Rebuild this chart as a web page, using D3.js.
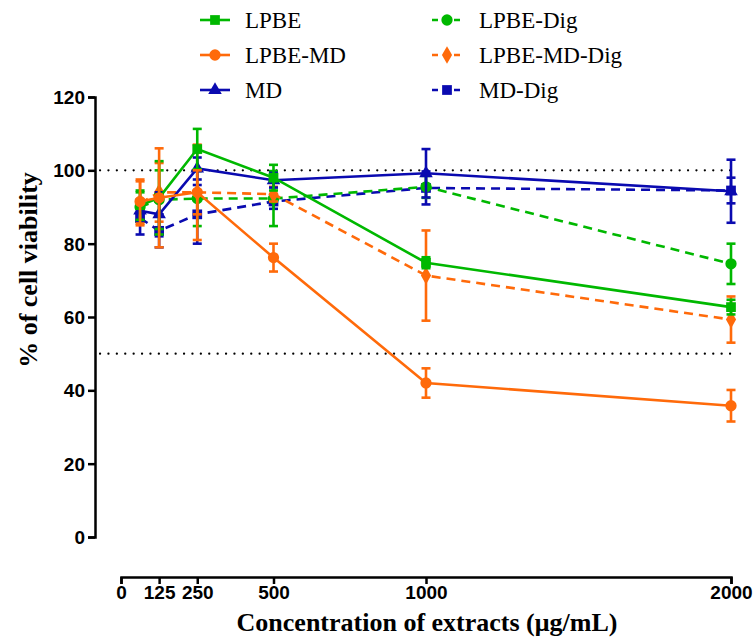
<!DOCTYPE html>
<html>
<head>
<meta charset="utf-8">
<script src="https://cdn.jsdelivr.net/npm/d3@7"></script>
<style>
    body { margin: 0; background: #fff; }
    .tick-label { font-family: "Liberation Sans", Arial, sans-serif; font-weight: bold; font-size: 19px; }
    .axis-title { font-family: "Liberation Serif", "Times New Roman", serif; font-weight: bold; font-size: 26px; }
    .legend-text { font-family: "Liberation Serif", "Times New Roman", serif; font-size: 23px; }
</style>
</head>
<body>
<div id="chart"></div>
<script>
// concentrations (ug/mL), first point is the 62.5 dose
var doses = [62.5, 125, 250, 500, 1000, 2000];
var xTicks = [0, 125, 250, 500, 1000, 2000];
var yTicks = [0, 20, 40, 60, 80, 100, 120];
var refLines = [100, 50];

var seriesNames = ["LPBE", "LPBE-MD", "MD", "LPBE-Dig", "LPBE-MD-Dig", "MD-Dig"];

var lpbe      = [90.5, 92.5, 105.8, 98.0, 74.8, 62.7];
var lpbeErr   = [4, 10, 5.5, 3.5, 1.5, 2];
var lpbeMd    = [91.5, 92.5, 94.0, 76.2, 42.0, 35.8];
var lpbeMdErr = [6, 13.5, 6, 3.8, 4, 4.3];
var md        = [89.0, 88.0, 100.5, 97.3, 99.2, 94.3];
var mdErr     = [3, 6, 3, 2, 6.6, 8.6];
var lpbeDig      = [90.0, 92.0, 92.3, 92.3, 95.5, 74.5];
var lpbeDigErr   = [4, 8, 7.5, 7.5, 3, 5.5];
var lpbeMdDig    = [91.0, 94.0, 94.0, 93.5, 71.3, 59.3];
var lpbeMdDigErr = [6, 8, 13, 2, 12.3, 6.3];
var mdDig     = [87.0, 83.5, 88.0, 91.5, 95.2, 94.5];
var mdDigErr  = [4.5, 4.5, 8, 2, 4.5, 3.5];

var green = "#00b800", orange = "#ff6a0a", blue = "#0a0ab0";

var series = [
    { name: seriesNames[0], values: lpbe, err: lpbeErr, color: green, dashed: false, shape: "square" },
    { name: seriesNames[1], values: lpbeMd, err: lpbeMdErr, color: orange, dashed: false, shape: "circle" },
    { name: seriesNames[2], values: md, err: mdErr, color: blue, dashed: false, shape: "triangle" },
    { name: seriesNames[3], values: lpbeDig, err: lpbeDigErr, color: green, dashed: true, shape: "circle" },
    { name: seriesNames[4], values: lpbeMdDig, err: lpbeMdDigErr, color: orange, dashed: true, shape: "diamond" },
    { name: seriesNames[5], values: mdDig, err: mdDigErr, color: blue, dashed: true, shape: "square" }
];
// dashed ones go underneath
var drawOrder = [5, 3, 4, 2, 0, 1];

var width = 756, height = 637;
var svg = d3.select("#chart").append("svg")
    .attr("width", width)
    .attr("height", height);

var x = d3.scaleLinear().domain([0, 2000]).range([121, 731]);
var y = d3.scaleLinear().domain([0, 120]).range([537, 97]);

var shapes = {
    square: d3.symbolSquare,
    circle: d3.symbolCircle,
    triangle: d3.symbolTriangle,
    diamond: d3.symbolDiamond
};
var sizes = { square: 95, circle: 100, triangle: 80, diamond: 90 };

// y axis (offset to the left, GraphPad style)
var yAxis = svg.append("g")
    .attr("transform", "translate(95,0)")
    .call(d3.axisLeft(y).tickValues(yTicks).tickSize(7).tickPadding(3));
// x axis
var xAxis = svg.append("g")
    .attr("transform", "translate(0,577)")
    .call(d3.axisBottom(x).tickValues(xTicks).tickFormat(d3.format("d")).tickSize(7).tickPadding(2));

[yAxis, xAxis].forEach(function(ax){
    ax.select(".domain").attr("stroke", "#000").attr("stroke-width", 2.5);
    ax.selectAll(".tick line").attr("stroke", "#000").attr("stroke-width", 2.5);
    ax.selectAll(".tick text").attr("class", "tick-label").attr("fill", "#000");
});
yAxis.selectAll(".tick text").attr("dy", "0.35em");

// dotted reference lines at 100% and 50%
svg.append("g").selectAll("line")
    .data(refLines)
    .enter().append("line")
    .attr("x1", 100)
    .attr("x2", 731)
    .attr("y1", function(d){ return y(d); })
    .attr("y2", function(d){ return y(d); })
    .attr("stroke", "#000")
    .attr("stroke-width", 2.2)
    .attr("stroke-linecap", "round")
    .attr("stroke-dasharray", "0.1,8.3");

var line = d3.line()
    .x(function(d, i){ return x(doses[i]); })
    .y(function(d){ return y(d); });

drawOrder.forEach(function(k){
    var s = series[k];
    var g = svg.append("g");
    g.append("path")
        .attr("d", line(s.values))
        .attr("fill", "none")
        .attr("stroke", s.color)
        .attr("stroke-width", 2.6)
        .attr("stroke-dasharray", s.dashed ? "9,6" : null);
    // error bars
    var eb = g.selectAll(".eb")
        .data(s.values)
        .enter().append("g");
    eb.append("line")
        .attr("x1", function(d, i){ return x(doses[i]); })
        .attr("x2", function(d, i){ return x(doses[i]); })
        .attr("y1", function(d, i){ return y(d + s.err[i]); })
        .attr("y2", function(d, i){ return y(d - s.err[i]); })
        .attr("stroke", s.color)
        .attr("stroke-width", 2.6);
    [1, -1].forEach(function(sign){
        eb.append("line")
            .attr("x1", function(d, i){ return x(doses[i]) - 4.5; })
            .attr("x2", function(d, i){ return x(doses[i]) + 4.5; })
            .attr("y1", function(d, i){ return y(d + sign * s.err[i]); })
            .attr("y2", function(d, i){ return y(d + sign * s.err[i]); })
            .attr("stroke", s.color)
            .attr("stroke-width", 2.6);
    });
    g.selectAll(".pt")
        .data(s.values)
        .enter().append("path")
        .attr("d", d3.symbol().type(shapes[s.shape]).size(sizes[s.shape]))
        .attr("transform", function(d, i){ return "translate(" + x(doses[i]) + "," + y(d) + ")"; })
        .attr("fill", s.color);
});

// legend
var legendPos = [
    { lx: 200, tx: 245, y: 20 }, { lx: 200, tx: 245, y: 55 }, { lx: 200, tx: 245, y: 90 },
    { lx: 432, tx: 479, y: 20 }, { lx: 432, tx: 479, y: 55 }, { lx: 432, tx: 479, y: 90 }
];
series.forEach(function(s, i){
    var p = legendPos[i];
    var lg = svg.append("g").attr("transform", "translate(" + p.lx + "," + p.y + ")");
    lg.append("line")
        .attr("x1", 0).attr("x2", 30)
        .attr("stroke", s.color)
        .attr("stroke-width", 2.6)
        .attr("stroke-dasharray", s.dashed ? "6,5" : null);
    lg.append("path")
        .attr("d", d3.symbol().type(shapes[s.shape]).size(sizes[s.shape]))
        .attr("transform", "translate(15,0)")
        .attr("fill", s.color);
    svg.append("text")
        .attr("class", "legend-text")
        .attr("x", p.tx)
        .attr("y", p.y + 8)
        .text(s.name);
});

// axis titles
svg.append("text")
    .attr("class", "axis-title")
    .attr("text-anchor", "middle")
    .attr("x", 427)
    .attr("y", 631)
    .text("Concentration of extracts (\u03bcg/mL)");
svg.append("text")
    .attr("class", "axis-title")
    .attr("text-anchor", "middle")
    .attr("transform", "translate(37,270) rotate(-90)")
    .text("% of cell viability");
</script>
</body>
</html>
